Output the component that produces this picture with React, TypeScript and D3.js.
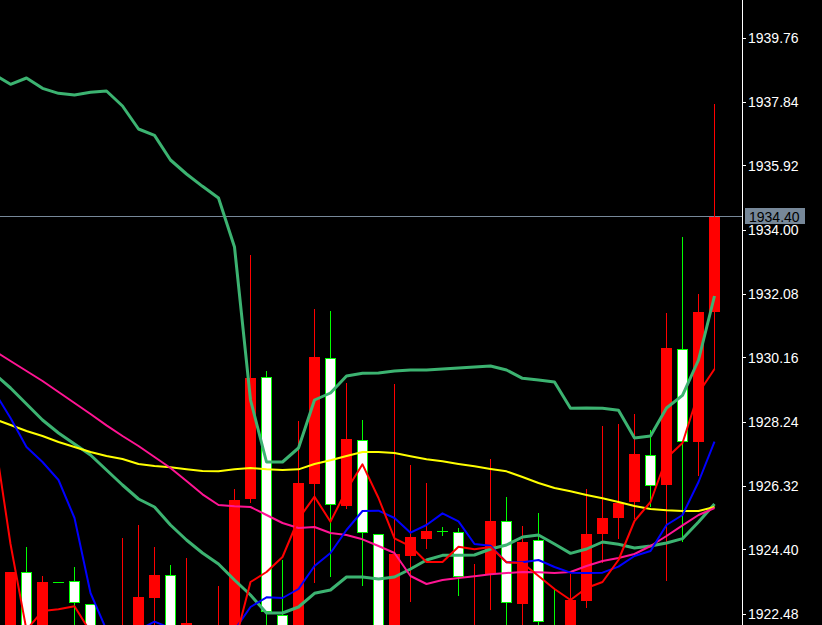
import React, { useEffect, useRef } from 'react';
import * as d3 from 'd3';

const W = 822;
const H = 625;

// Candle OHLC (45 bars, oldest first)
const opens = [1921.70, 1923.73, 1921.80, 1923.42, 1923.47, 1922.77, 1921.40, 1921.30, 1921.60, 1922.97,
  1923.64, 1921.60, 1921.20, 1921.50, 1921.90, 1925.94, 1929.58, 1922.44, 1921.90, 1926.39,
  1930.15, 1925.73, 1927.69, 1924.87, 1921.90, 1924.23, 1924.74, 1924.96, 1924.93, 1921.60,
  1923.69, 1925.26, 1922.79, 1924.70, 1922.00, 1921.80, 1922.87, 1924.89, 1925.37, 1925.84,
  1927.26, 1926.34, 1930.44, 1927.63, 1931.54];
const highs = [1923.75, 1924.48, 1923.62, 1923.42, 1923.90, 1922.77, 1922.00, 1924.77, 1925.15, 1924.49,
  1923.95, 1924.16, 1921.95, 1923.32, 1926.23, 1933.25, 1929.77, 1924.10, 1928.27, 1931.63,
  1931.57, 1929.40, 1928.30, 1924.87, 1929.37, 1926.95, 1926.41, 1925.09, 1925.06, 1923.98,
  1927.13, 1925.99, 1925.12, 1925.51, 1923.23, 1923.68, 1926.23, 1928.11, 1928.17, 1928.47,
  1927.99, 1931.51, 1933.79, 1932.07, 1937.77];
const lows = [1921.40, 1921.60, 1921.50, 1923.42, 1921.90, 1921.30, 1921.10, 1921.00, 1921.30, 1921.90,
  1921.50, 1921.30, 1920.90, 1921.20, 1921.60, 1925.80, 1921.90, 1921.60, 1921.60, 1923.42,
  1923.60, 1925.63, 1923.33, 1921.60, 1921.60, 1922.83, 1924.43, 1924.82, 1923.02, 1921.30,
  1922.60, 1921.90, 1921.90, 1921.90, 1921.20, 1921.50, 1922.66, 1924.00, 1924.72, 1925.33,
  1925.69, 1923.46, 1924.65, 1926.63, 1929.82];
const closes = [1923.75, 1921.90, 1923.44, 1923.42, 1922.80, 1921.50, 1921.80, 1921.90, 1922.99, 1923.65,
  1921.80, 1922.21, 1921.70, 1922.00, 1925.90, 1929.57, 1922.55, 1921.90, 1926.42, 1930.19,
  1925.74, 1927.73, 1924.90, 1921.90, 1924.28, 1924.79, 1924.97, 1924.96, 1923.58, 1922.00,
  1925.27, 1922.80, 1924.64, 1922.23, 1921.50, 1922.90, 1924.88, 1925.36, 1925.81, 1927.27,
  1926.33, 1930.45, 1927.65, 1931.54, 1934.40];

// Indicator lines (46 points: one bar before the first visible one, then the 45 bars)
const upperBand = [1938.66, 1938.37, 1938.56, 1938.25, 1938.10, 1938.05, 1938.13, 1938.17, 1937.72, 1937.03,
  1936.84, 1936.10, 1935.68, 1935.31, 1934.96, 1933.49, 1928.90, 1927.04, 1927.04, 1927.46,
  1928.90, 1929.11, 1929.62, 1929.70, 1929.71, 1929.77, 1929.80, 1929.80, 1929.83, 1929.86,
  1929.89, 1929.92, 1929.80, 1929.55, 1929.50, 1929.44, 1928.65, 1928.66, 1928.65, 1928.59,
  1927.76, 1927.82, 1928.66, 1929.04, 1930.10, 1932.02];
const lowerBand = [1929.68, 1929.26, 1928.78, 1928.30, 1927.91, 1927.58, 1927.25, 1926.80, 1926.35, 1925.93,
  1925.69, 1925.15, 1924.70, 1924.31, 1923.98, 1923.50, 1923.05, 1922.51, 1922.51, 1922.69,
  1923.10, 1923.20, 1923.59, 1923.59, 1923.53, 1923.59, 1923.83, 1924.10, 1924.24, 1924.24,
  1924.25, 1924.43, 1924.55, 1924.79, 1924.85, 1924.58, 1924.30, 1924.43, 1924.64, 1924.57,
  1924.46, 1924.52, 1924.61, 1924.74, 1925.24, 1925.78];
const yellowMA = [1928.33, 1928.15, 1927.97, 1927.82, 1927.64, 1927.49, 1927.34, 1927.22, 1927.13, 1926.98,
  1926.92, 1926.88, 1926.82, 1926.77, 1926.76, 1926.82, 1926.86, 1926.82, 1926.80, 1926.82,
  1926.98, 1927.09, 1927.22, 1927.34, 1927.34, 1927.31, 1927.21, 1927.12, 1927.06, 1926.98,
  1926.91, 1926.83, 1926.76, 1926.59, 1926.41, 1926.26, 1926.16, 1926.05, 1925.95, 1925.84,
  1925.72, 1925.63, 1925.59, 1925.57, 1925.57, 1925.69];
const pinkMA = [1930.37, 1930.07, 1929.77, 1929.47, 1929.14, 1928.81, 1928.48, 1928.14, 1927.82, 1927.52,
  1927.19, 1926.86, 1926.47, 1926.07, 1925.75, 1925.71, 1925.69, 1925.45, 1925.21, 1925.06,
  1925.09, 1924.91, 1924.85, 1924.72, 1924.52, 1924.31, 1923.62, 1923.38, 1923.50, 1923.56,
  1923.61, 1923.67, 1923.71, 1923.74, 1923.73, 1923.71, 1923.74, 1923.92, 1924.07, 1924.16,
  1924.28, 1924.52, 1924.82, 1925.14, 1925.45, 1925.66];
const blueMA = [1929.14, 1928.36, 1927.49, 1927.04, 1926.50, 1925.36, 1923.11, 1922.00, 1921.70, 1922.00,
  1922.25, 1922.06, 1921.70, 1921.46, 1921.64, 1922.00, 1922.69, 1922.98, 1922.96, 1923.23,
  1923.92, 1924.31, 1925.00, 1925.57, 1925.58, 1925.36, 1924.92, 1925.15, 1925.50, 1925.26,
  1924.58, 1924.53, 1924.03, 1924.03, 1924.10, 1923.89, 1923.72, 1923.71, 1923.72, 1923.90,
  1924.22, 1924.37, 1925.15, 1925.45, 1926.44, 1927.65];
const redMA = [1927.79, 1924.58, 1922.00, 1922.57, 1922.62, 1922.71, 1921.94, 1921.55, 1921.40, 1921.40,
  1921.46, 1921.40, 1921.34, 1921.34, 1921.46, 1921.58, 1923.44, 1923.74, 1924.19, 1925.33,
  1926.00, 1925.25, 1926.20, 1926.97, 1925.96, 1924.75, 1924.51, 1924.04, 1924.04, 1924.50,
  1924.42, 1924.49, 1924.03, 1924.01, 1923.62, 1923.23, 1922.90, 1923.26, 1923.44, 1924.10,
  1925.27, 1925.84, 1927.16, 1927.61, 1929.11, 1929.83];

const priceTicks = [1939.76, 1937.84, 1935.92, 1934.00, 1932.08, 1930.16, 1928.24, 1926.32, 1924.40, 1922.48];
const currentPrice = 1934.40;

export default function App() {
  const ref = useRef<SVGSVGElement>(null);

  useEffect(() => {
    const svg = d3.select(ref.current);
    svg.selectAll('*').remove();

    const plotRight = 742;
    const y = d3.scaleLinear().domain([1922.48, 1939.76]).range([614, 38]);
    const x = d3.scaleLinear().domain([0, 44]).range([10.5, 714.5]);
    const snap = (v: number) => Math.floor(v) + 0.5;

    svg.append('rect').attr('width', W).attr('height', H).attr('fill', '#000000');

    const defs = svg.append('defs');
    defs.append('clipPath').attr('id', 'plotclip')
      .append('rect').attr('x', 0).attr('y', 0).attr('width', plotRight).attr('height', H);

    const g = svg.append('g').attr('clip-path', 'url(#plotclip)');

    // current price line
    const py = y(currentPrice);
    g.append('line')
      .attr('x1', 0).attr('x2', plotRight)
      .attr('y1', snap(py)).attr('y2', snap(py))
      .attr('stroke', '#778899').attr('stroke-width', 1);

    // candles
    const cg = g.append('g').attr('shape-rendering', 'crispEdges');
    opens.forEach((o, i) => {
      const c = closes[i];
      const xc = x(i);
      const up = c > o;
      const down = c < o;
      const wickColor = up ? '#ff0000' : '#00ff00';
      if (highs[i] !== lows[i]) {
        cg.append('line')
          .attr('x1', xc).attr('x2', xc)
          .attr('y1', Math.round(y(highs[i]))).attr('y2', Math.round(y(lows[i])))
          .attr('stroke', wickColor).attr('stroke-width', 1);
      }
      if (up) {
        const top = Math.round(y(c));
        const bot = Math.round(y(o));
        cg.append('rect')
          .attr('x', xc - 5.5).attr('y', top)
          .attr('width', 11).attr('height', Math.max(1, bot - top))
          .attr('fill', '#ff0000');
      } else if (down) {
        const top = Math.round(y(o));
        const bot = Math.round(y(c));
        cg.append('rect')
          .attr('x', xc - 5).attr('y', top + 0.5)
          .attr('width', 10).attr('height', Math.max(1, bot - top - 1))
          .attr('fill', '#ffffff').attr('stroke', '#00ff00').attr('stroke-width', 1);
      } else {
        const yy = snap(y(o));
        cg.append('line')
          .attr('x1', xc - 5.5).attr('x2', xc + 5.5)
          .attr('y1', yy).attr('y2', yy)
          .attr('stroke', '#00ff00').attr('stroke-width', 1);
      }
    });

    // indicator lines
    const line = d3.line<number>()
      .x((_, i) => x(i - 1))
      .y((d) => y(d));

    const series: [number[], string, number][] = [
      [upperBand, '#3cb371', 3],
      [lowerBand, '#3cb371', 3],
      [yellowMA, '#ffff00', 2],
      [pinkMA, '#ff1493', 2],
      [blueMA, '#0000ff', 2],
      [redMA, '#ff0000', 2],
    ];
    series.forEach(([data, color, w]) => {
      g.append('path')
        .datum(data)
        .attr('d', line)
        .attr('fill', 'none')
        .attr('stroke', color)
        .attr('stroke-width', w)
        .attr('stroke-linejoin', 'round');
    });

    // price axis
    svg.append('line')
      .attr('x1', plotRight + 0.5).attr('x2', plotRight + 0.5)
      .attr('y1', 0).attr('y2', H)
      .attr('stroke', '#ffffff').attr('stroke-width', 1);

    const ag = svg.append('g');
    priceTicks.forEach((t) => {
      const ty = y(t);
      ag.append('line')
        .attr('x1', plotRight + 1).attr('x2', plotRight + 4)
        .attr('y1', snap(ty)).attr('y2', snap(ty))
        .attr('stroke', '#ffffff').attr('stroke-width', 1);
      ag.append('text')
        .attr('x', plotRight + 6)
        .attr('y', ty + 5)
        .attr('fill', '#ffffff')
        .attr('font-family', '"Liberation Sans", Arial, sans-serif')
        .attr('font-size', 14)
        .text(t.toFixed(2));
    });

    // current price label
    ag.append('rect')
      .attr('x', plotRight + 3).attr('y', Math.floor(py) - 8)
      .attr('width', 60).attr('height', 16)
      .attr('fill', '#778899');
    ag.append('text')
      .attr('x', plotRight + 7)
      .attr('y', py + 5)
      .attr('fill', '#000000')
      .attr('font-family', '"Liberation Sans", Arial, sans-serif')
      .attr('font-size', 14)
      .text(currentPrice.toFixed(2));
  }, []);

  return (
    <svg
      ref={ref}
      width={W}
      height={H}
      style={{ position: 'absolute', left: 0, top: 0, display: 'block' }}
    />
  );
}
